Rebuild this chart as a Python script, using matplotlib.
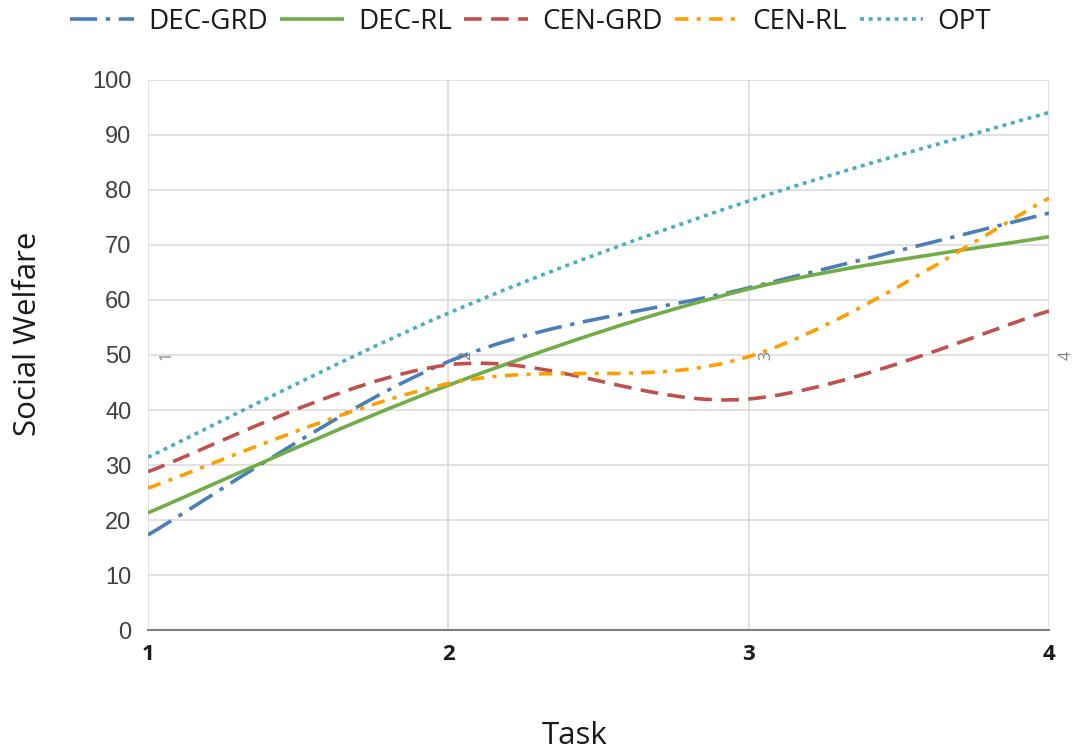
import matplotlib
matplotlib.use("Agg")
import matplotlib.pyplot as plt
from matplotlib.path import Path
from matplotlib.patches import PathPatch
from matplotlib.lines import Line2D
import numpy as np

tasks = [1, 2, 3, 4]
dec_grd = [17.3, 48.8, 62.2, 75.8]
dec_rl = [21.3, 44.5, 62.0, 71.5]
cen_grd = [28.8, 48.2, 42.0, 58.0]
cen_rl = [25.8, 44.8, 49.7, 78.5]
opt = [31.4, 57.6, 78.0, 94.1]
series_names = ["DEC-GRD", "DEC-RL", "CEN-GRD", "CEN-RL", "OPT"]
label_level = 50
tick_labels = ["1", "2", "3", "4"]

colors = ["#4A7EBB", "#70AD47", "#C0504D", "#FF9E00", "#4BACC6"]
styles = [(0, (7.5, 2.4, 1.2, 2.4)), "-", (0, (4.9, 2.6)),
          (0, (3.7, 2.3, 1.15, 2.3)), (0, (1.1, 1.3))]
LW = 2.6

def smooth_path(xs, ys):
    pts = np.column_stack([xs, ys]).astype(float)
    n = len(pts)
    verts = [pts[0]]
    codes = [Path.MOVETO]
    for i in range(n - 1):
        p0 = pts[i - 1] if i > 0 else pts[i]
        p1 = pts[i]
        p2 = pts[i + 1]
        p3 = pts[i + 2] if i + 2 < n else pts[i + 1]
        c1 = p1 + (p2 - p0) / 6.0
        c2 = p2 - (p3 - p1) / 6.0
        verts += [c1, c2, p2]
        codes += [Path.CURVE4] * 3
    return Path(verts, codes)

fig = plt.figure(figsize=(10.78, 7.51), dpi=100)
ax = fig.add_axes([0.1373, 0.1611, 0.8358, 0.7324])

data = [dec_grd, dec_rl, cen_grd, cen_rl, opt]
handles = []
for name, vals, c, ls in zip(series_names, data, colors, styles):
    patch = PathPatch(smooth_path(tasks, vals), fill=False, edgecolor=c,
                      linewidth=LW, linestyle=ls, capstyle="butt",
                      joinstyle="round", zorder=3)
    ax.add_patch(patch)
    handles.append(Line2D([], [], color=c, lw=LW, linestyle=ls,
                          solid_capstyle="butt", dash_capstyle="butt"))

ax.set_xlim(1, 4)
ax.set_ylim(0, 100)
ax.set_yticks(range(0, 101, 10))
ax.set_xticks(tasks)
ax.set_xticklabels(tick_labels, fontfamily="Open Sans", fontweight="bold",
                   fontsize=16, color="#1a1a1a")
for t in ax.get_yticklabels():
    t.set_fontfamily("Liberation Sans")
    t.set_fontsize(17)
    t.set_color("#404040")
ax.tick_params(axis="both", length=0)
ax.tick_params(axis="y", pad=12)
ax.tick_params(axis="x", pad=10)

ax.grid(True, color="#D9D9D9", linewidth=1.1, zorder=0)
ax.set_axisbelow(True)
for s in ["top", "right", "left"]:
    ax.spines[s].set_visible(False)
ax.spines["bottom"].set_color("#7F7F7F")
ax.spines["bottom"].set_linewidth(1.5)
ax.spines["bottom"].set_zorder(2)

for x, lab in zip(tasks, tick_labels):
    ax.annotate(lab, (x, label_level), xytext=(13, 0), textcoords="offset points",
                rotation=90, ha="center", va="center", fontsize=11.5,
                color="#808080", annotation_clip=False, fontfamily="Open Sans")

ax.set_xlabel("Task", fontfamily="Open Sans", fontsize=22.5, color="#1a1a1a")
ax.xaxis.set_label_coords(0.474, -0.165)
ax.set_ylabel("Social Welfare", fontfamily="Open Sans", fontsize=22.5,
              color="#1a1a1a")
ax.yaxis.set_label_coords(-0.116, 0.538)

leg = ax.legend(handles, series_names, loc="center left",
                bbox_to_anchor=(-0.0866, 1.106), borderpad=0, borderaxespad=0,
                ncol=5, frameon=False, handlelength=2.3, handletextpad=0.5,
                columnspacing=0.45, prop={"family": "Open Sans", "size": 20})
for t in leg.get_texts():
    t.set_color("#1a1a1a")

fig.savefig("out.png", dpi=100)
